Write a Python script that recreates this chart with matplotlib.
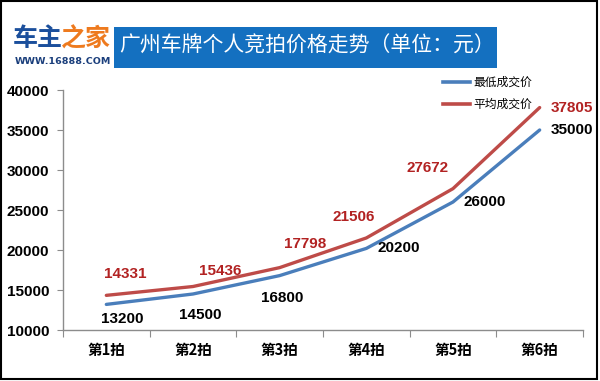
import matplotlib
matplotlib.use("Agg")
import matplotlib.pyplot as plt
from matplotlib.patches import Rectangle

plt.rcParams["font.family"] = ["Liberation Sans", "Noto Sans CJK SC", "DejaVu Sans"]

# data
rounds = ["第1拍", "第2拍", "第3拍", "第4拍", "第5拍", "第6拍"]
min_price = [13200, 14500, 16800, 20200, 26000, 35000]
avg_price = [14331, 15436, 17798, 21506, 27672, 37805]
yticks = [10000, 15000, 20000, 25000, 30000, 35000, 40000]

# label offsets in pixels (dx, dy)
avg_offsets = [(19, 21), (27, 16), (25, 24), (-13, 21), (-25, 21), (32, 0)]
min_offsets = [(16, -15), (7, -21), (3, -22), (32, 0), (32, 0), (32, 0)]

BLUE = "#4A7EBB"
RED = "#BE4B48"
AXIS = "#8C8C8C"

fig = plt.figure(figsize=(6.0, 3.81), dpi=100)
W, H = 600, 381


def fx(px):
    return px / W


def fy(py):
    return 1 - py / H


ax = fig.add_axes([fx(63), fy(330), fx(583) - fx(63), fy(90) - fy(330)])
x = range(len(rounds))
ax.plot(x, min_price, color=BLUE, lw=2.4, solid_joinstyle="round", solid_capstyle="round")
ax.plot(x, avg_price, color=RED, lw=2.4, solid_joinstyle="round", solid_capstyle="round")

ax.set_xlim(-0.5, len(rounds) - 0.5)
ax.set_ylim(10000, 40000)
ax.set_yticks(yticks)
ax.set_yticklabels([str(v) for v in yticks], fontsize=11, fontweight="bold")
ax.set_xticks([i - 0.5 for i in range(len(rounds) + 1)], minor=False)
ax.set_xticklabels([])
ax.set_xticks(list(x), minor=True)
ax.set_xticklabels(rounds, minor=True, fontsize=10.5, fontweight="bold",
                   family=["Noto Sans CJK SC", "DejaVu Sans"])
ax.tick_params(axis="x", which="major", length=5, color=AXIS, direction="out")
ax.tick_params(axis="x", which="minor", length=0, pad=9)
ax.tick_params(axis="y", length=4, color=AXIS, pad=6)
for s in ["top", "right"]:
    ax.spines[s].set_visible(False)
for s in ["left", "bottom"]:
    ax.spines[s].set_color(AXIS)
    ax.spines[s].set_linewidth(1)

for i, (v, off) in enumerate(zip(avg_price, avg_offsets)):
    ax.annotate(str(v), (i, v), xytext=off, textcoords="offset pixels",
                ha="center", va="center", fontsize=11, fontweight="bold", color="#B22222")
for i, (v, off) in enumerate(zip(min_price, min_offsets)):
    ax.annotate(str(v), (i, v), xytext=off, textcoords="offset pixels",
                ha="center", va="center", fontsize=11, fontweight="bold", color="black")

# legend drawn by hand
cjk = ["Noto Sans CJK SC", "DejaVu Sans"]
for py, col, name in [(82, BLUE, "最低成交价"), (104, RED, "平均成交价")]:
    fig.add_artist(plt.Line2D([fx(443), fx(470)], [fy(py), fy(py)], color=col, lw=2.6))
    fig.text(fx(473), fy(py), name, fontsize=8.5, va="center", ha="left", family=cjk)

# title banner
fig.add_artist(Rectangle((fx(114), fy(68)), fx(497) - fx(114), fy(27) - fy(68),
                         transform=fig.transFigure, facecolor="#1470C0", edgecolor="none"))
fig.text(fx(307), fy(46), "广州车牌个人竞拍价格走势（单位：元）", color="white",
         fontsize=15, ha="center", va="center", family=cjk)

# logo
fig.text(fx(13), fy(39), "车主", color="#1B4F9C", fontsize=18, fontweight="heavy",
         ha="left", va="center", family=cjk)
fig.text(fx(61), fy(39), "之家", color="#EE7A1E", fontsize=18, fontweight="heavy",
         ha="left", va="center", family=cjk)
fig.text(fx(15), fy(61), "WWW.16888.COM", color="#1B3F7C", fontsize=6.8, fontweight="bold",
         ha="left", va="center", family=["DejaVu Sans"])

# outer frame
fig.add_artist(Rectangle((fx(1), fy(379)), fx(597) - fx(1), fy(1) - fy(379),
                         transform=fig.transFigure, facecolor="none", edgecolor="black", lw=1.5))

fig.savefig("out.png", dpi=100)
